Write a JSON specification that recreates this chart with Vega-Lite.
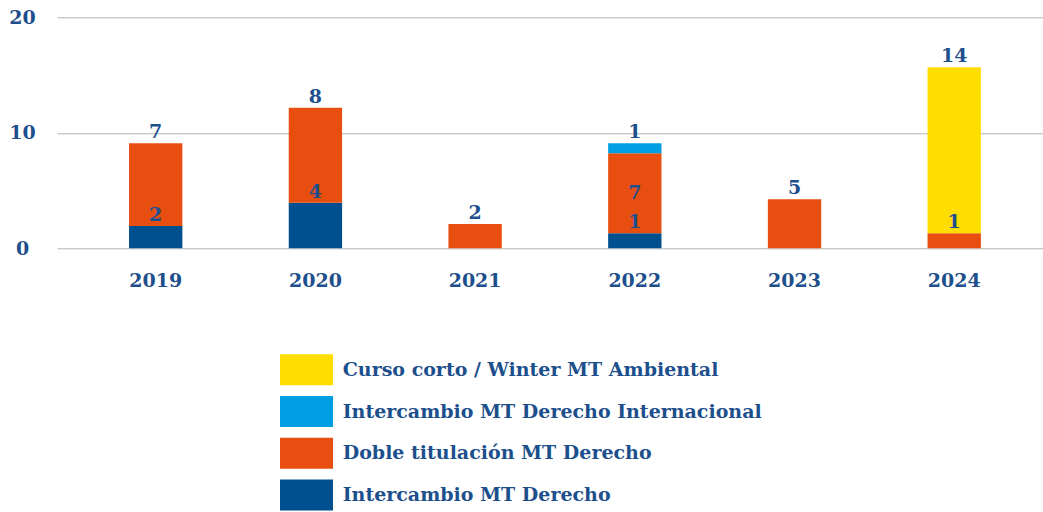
{
  "$schema": "https://vega.github.io/schema/vega-lite/v6.json",
  "autosize": "none",
  "width": 986,
  "height": 231,
  "padding": {"left": 57, "top": 17.3, "right": 0, "bottom": 263.7},
  "background": "white",
  "config": {
    "view": {"stroke": null},
    "font": "DejaVu Serif"
  },
  "data": {
    "values": [
      {"year": "2019", "cat": "Intercambio MT Derecho", "value": 1.93, "label": "2"},
      {"year": "2019", "cat": "Doble titulación MT Derecho", "value": 7.16, "label": "7"},
      {"year": "2020", "cat": "Intercambio MT Derecho", "value": 3.95, "label": "4"},
      {"year": "2020", "cat": "Doble titulación MT Derecho", "value": 8.22, "label": "8"},
      {"year": "2021", "cat": "Doble titulación MT Derecho", "value": 2.1, "label": "2"},
      {"year": "2022", "cat": "Intercambio MT Derecho", "value": 1.3, "label": "1"},
      {"year": "2022", "cat": "Doble titulación MT Derecho", "value": 6.92, "label": "7"},
      {"year": "2022", "cat": "Intercambio MT Derecho Internacional", "value": 0.87, "label": "1"},
      {"year": "2023", "cat": "Doble titulación MT Derecho", "value": 4.24, "label": "5"},
      {"year": "2024", "cat": "Doble titulación MT Derecho", "value": 1.3, "label": "1"},
      {"year": "2024", "cat": "Curso corto / Winter MT Ambiental", "value": 14.37, "label": "14"}
    ]
  },
  "transform": [
    {"calculate": "indexof(['Intercambio MT Derecho','Doble titulación MT Derecho','Intercambio MT Derecho Internacional','Curso corto / Winter MT Ambiental'], datum.cat)", "as": "ord"},
    {"stack": "value", "groupby": ["year"], "sort": [{"field": "ord", "order": "ascending"}], "as": ["v0", "v1"]},
    {"calculate": "(datum.v0 + datum.v1) / 2", "as": "vmid"}
  ],
  "encoding": {
    "x": {
      "field": "year", "type": "nominal",
      "scale": {"paddingInner": 0.666, "paddingOuter": 0.42, "align": 0.537},
      "axis": {
        "title": null, "domain": false, "ticks": false, "labelAngle": 0,
        "labelFont": "DejaVu Serif", "labelFontSize": 19, "labelFontWeight": "bold",
        "labelColor": "#1d4f8c", "labelBaseline": "alphabetic", "labelPadding": 38
      }
    }
  },
  "layer": [
    {
      "mark": {"type": "bar"},
      "encoding": {
        "y": {
          "field": "v1", "type": "quantitative",
          "scale": {"domain": [0, 20], "nice": false},
          "axis": {
            "title": null, "domain": false, "ticks": false, "values": [0, 10, 20],
            "grid": true, "gridColor": "#b5b5b5", "gridWidth": 1,
            "labelFont": "DejaVu Serif", "labelFontSize": 19, "labelFontWeight": "bold",
            "labelColor": "#1d4f8c", "labelAlign": "center", "labelBaseline": "middle", "labelPadding": 35
          }
        },
        "y2": {"field": "v0"},
        "color": {
          "field": "cat", "type": "nominal",
          "scale": {
            "domain": ["Curso corto / Winter MT Ambiental", "Intercambio MT Derecho Internacional", "Doble titulación MT Derecho", "Intercambio MT Derecho"],
            "range": ["#ffdd00", "#009fe3", "#e84e0f", "#00508f"]
          },
          "legend": {
            "orient": "none", "legendX": 234, "legendY": 337,
            "title": null,
            "symbolType": "M-1.71,-1H1.71V1H-1.71Z", "symbolSize": 961, "symbolStrokeWidth": 0,
            "labelFont": "DejaVu Serif", "labelFontSize": 19, "labelFontWeight": "bold",
            "labelColor": "#1d4f8c", "labelOffset": 20.7, "rowPadding": 10.7, "labelLimit": 0
          }
        }
      }
    },
    {
      "transform": [{"filter": "!(datum.year == '2022' && datum.ord == 1)"}],
      "mark": {"type": "text", "baseline": "alphabetic", "dy": -5, "font": "DejaVu Serif", "fontSize": 19, "fontWeight": "bold", "color": "#1d4f8c"},
      "encoding": {
        "y": {"field": "v1", "type": "quantitative"},
        "text": {"field": "label", "type": "nominal"}
      }
    },
    {
      "transform": [{"filter": "datum.year == '2022' && datum.ord == 1"}],
      "mark": {"type": "text", "baseline": "middle", "font": "DejaVu Serif", "fontSize": 19, "fontWeight": "bold", "color": "#1d4f8c"},
      "encoding": {
        "y": {"field": "vmid", "type": "quantitative"},
        "text": {"field": "label", "type": "nominal"}
      }
    }
  ]
}
